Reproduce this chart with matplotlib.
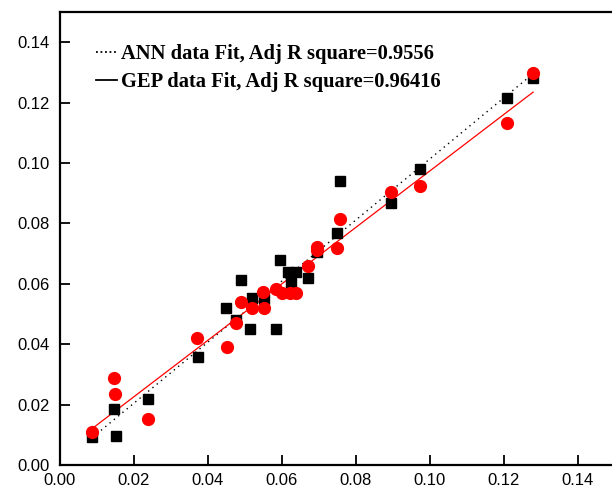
import numpy as np
import matplotlib
matplotlib.use('Agg')
import matplotlib.pyplot as plt
from matplotlib.lines import Line2D

plt.rcParams['font.family'] = 'sans-serif'
plt.rcParams['font.sans-serif'] = ['Liberation Sans', 'DejaVu Sans']

# --- data ---
ann_x = [0.0089, 0.0146, 0.0154, 0.0238, 0.0373, 0.0451, 0.0476, 0.0491,
         0.0514, 0.0521, 0.0552, 0.0586, 0.0597, 0.0618, 0.0638, 0.0627,
         0.0671, 0.0696, 0.0751, 0.0757, 0.0896, 0.0974, 0.1210, 0.1280]
ann_y = [0.0093, 0.0185, 0.0096, 0.0218, 0.0357, 0.0520, 0.0480, 0.0612,
         0.0449, 0.0554, 0.0549, 0.0449, 0.0679, 0.0640, 0.0640, 0.0601,
         0.0620, 0.0706, 0.0769, 0.0941, 0.0866, 0.0980, 0.1214, 0.1280]

gep_x = [0.0089, 0.0146, 0.0151, 0.0238, 0.0372, 0.0453, 0.0476, 0.0491,
         0.0519, 0.0552, 0.0551, 0.0586, 0.0602, 0.0622, 0.0638, 0.0671,
         0.0695, 0.0696, 0.0751, 0.0757, 0.0896, 0.0974, 0.1210, 0.1280]
gep_y = [0.0109, 0.0288, 0.0235, 0.0152, 0.0419, 0.0390, 0.0469, 0.0539,
         0.0519, 0.0519, 0.0574, 0.0582, 0.0570, 0.0568, 0.0570, 0.0660,
         0.0723, 0.0712, 0.0717, 0.0814, 0.0905, 0.0924, 0.1133, 0.1299]

ann_label = 'ANN data Fit, Adj R square=0.9556'
gep_label = 'GEP data Fit, Adj R square=0.96416'

ticks = [0.00, 0.02, 0.04, 0.06, 0.08, 0.10, 0.12, 0.14]

# --- figure ---
fig = plt.figure(figsize=(6.12, 4.94), dpi=100)
ax = fig.add_axes([59.5 / 612, 29 / 494, 555 / 612, 453 / 494])

# linear fits
ann_x = np.array(ann_x); ann_y = np.array(ann_y)
gep_x = np.array(gep_x); gep_y = np.array(gep_y)
k1, b1 = np.polyfit(ann_x, ann_y, 1)
k2, b2 = np.polyfit(gep_x, gep_y, 1)
xs1 = np.array([ann_x.min(), ann_x.max()])
xs2 = np.array([gep_x.min(), gep_x.max()])
ax.plot(xs1, k1 * xs1 + b1, color='black', linestyle=(0, (1, 3)), linewidth=1.0, zorder=1)
ax.plot(xs2, k2 * xs2 + b2, color='red', linestyle='-', linewidth=0.9, zorder=1)

# points
ax.plot(ann_x, ann_y, 's', color='black', markersize=7.5, zorder=2)
ax.plot(gep_x, gep_y, 'o', color='red', markersize=8.5, zorder=3)

# legend (black handles, as in the original)
handles = [Line2D([], [], color='black', linestyle=(0, (1, 1.5)), linewidth=1.3),
           Line2D([], [], color='black', linestyle='-', linewidth=1.3)]
ax.legend(handles, [ann_label, gep_label], loc='upper left',
          bbox_to_anchor=(0.066, 0.93), frameon=False,
          handlelength=1.0, handletextpad=0.2, labelspacing=0.42,
          borderpad=0, borderaxespad=0,
          prop={'family': 'Liberation Serif', 'weight': 'bold', 'size': 14.8})

# axes
ax.set_xlim(0, 0.15)
ax.set_ylim(0, 0.15)
ax.set_xticks(ticks)
ax.set_yticks(ticks)
ax.set_xticklabels([f'{t:.2f}' for t in ticks])
ax.set_yticklabels([f'{t:.2f}' for t in ticks])
ax.tick_params(direction='in', length=7, width=1.3, labelsize=12,
               top=False, right=False)
ax.tick_params(axis='x', pad=6)
ax.tick_params(axis='y', pad=7)
for spine in ax.spines.values():
    spine.set_linewidth(1.6)

fig.savefig('out.png', dpi=100)
